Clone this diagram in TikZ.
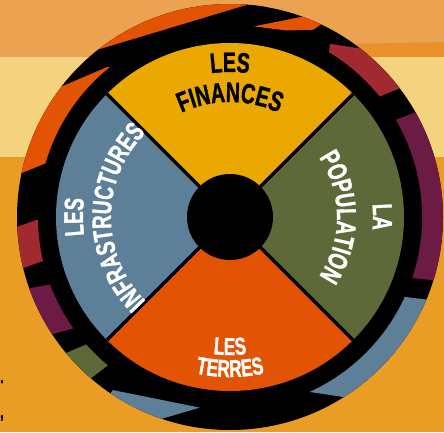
\documentclass[tikz,border=0pt]{standalone}
\usepackage{fontspec}
\newfontfamily\wheelfont{Liberation Sans}[UprightFont={* Bold}, FakeStretch=0.70, FakeBold=1.2]
\usetikzlibrary{decorations.text}
\definecolor{bgtop}{HTML}{EBA352}
\definecolor{bgpale}{HTML}{F3D37E}
\definecolor{bgorange}{HTML}{E99D25}
\definecolor{bgdark}{HTML}{E8912A}
\definecolor{finyellow}{HTML}{EAA800}
\definecolor{popgreen}{HTML}{5E693A}
\definecolor{terorange}{HTML}{E25303}
\definecolor{infblue}{HTML}{5D7F97}
\definecolor{ringred}{HTML}{A02A30}
\definecolor{ringpurple}{HTML}{6C1B45}
\tikzset{
    every node/.style={font=\wheelfont},
    sector line/.style={draw=black, line width=3.5pt},
    stray mark/.style={anchor=base west, inner sep=0pt,
        font=\wheelfont\fontsize{18}{18}\selectfont}
}
% one coloured piece of the outer band
\newcommand\bandpiece[5]{\fill[#1] (#2:218) arc[start angle=#2, end angle=#3, radius=218]
    -- (#5:185) arc[start angle=#5, end angle=#4, radius=185] -- cycle;}
% curved label
\newcommand\wheellabel[6]{\path[decorate, decoration={text along path, text align=center,
    text color=#1, text={|\wheelfont\fontsize{#2}{#2}\selectfont|#6}}]
    (#4:#3) arc[start angle=#4, end angle=#5, radius=#3];}

\begin{document}
\begin{tikzpicture}[x=1pt,y=1pt]
    \useasboundingbox (0,0) rectangle (444,432);
    % background stripes
    \fill[bgorange] (0,0) rectangle (444,275);
    \fill[bgpale] (0,275) rectangle (444,375);
    \fill[bgtop] (0,375) rectangle (444,432);
    \fill[bgdark] (300,375) -- (444,375) -- (444,390) -- (300,387) -- cycle;
    \node[stray mark] (dot) at (0,49) {.};
    \node[stray mark] (comma) at (0,14) {,};

    \begin{scope}[shift={(230,215)}]
        \fill[black] (0,0) circle (213);
        \begin{scope}
            \clip (0,0) circle (213);
            \bandpiece{ringpurple}{-17}{29.3}{-19}{30.7}
            \fill[ringred] (36.8:218) arc[start angle=36.8, end angle=50, radius=218]
                -- (60:200) -- (58:185) arc[start angle=58, end angle=39.5, radius=185] -- cycle;
            \bandpiece{terorange}{85}{169}{85}{162}
            \fill[black] (-170,130) -- (-123,150) -- (20,160) -- (40,219)
                -- (-133,167) -- (-190,160) -- cycle;
            \fill[terorange] (83:192) -- (68:218) -- (64:218) -- (66:205) -- (73:195) -- cycle;
            \bandpiece{ringred}{183}{194}{180}{193}
            \bandpiece{ringpurple}{199.3}{213}{201}{216.2}
            \bandpiece{popgreen}{219.3}{229}{222.3}{231}
            \fill[infblue] (235.9:218) arc[start angle=235.9, end angle=249.5, radius=218]
                -- (261:193) -- (235.9:209) -- cycle;
            \fill[infblue] (293.4:190) -- (303.8:218) arc[start angle=303.8, end angle=337.6, radius=218]
                -- (334.7:185) arc[start angle=334.7, end angle=296, radius=185] -- cycle;
        \end{scope}
        \fill[black] (0,0) circle (192);

        % the four quarters
        \fill[finyellow] (0,0) -- (45:174) arc[start angle=45, end angle=135, radius=174] -- cycle;
        \fill[infblue] (0,0) -- (135:174) arc[start angle=135, end angle=225, radius=174] -- cycle;
        \fill[terorange] (0,0) -- (225:174) arc[start angle=225, end angle=315, radius=174] -- cycle;
        \fill[popgreen] (0,0) -- (315:174) arc[start angle=315, end angle=405, radius=174] -- cycle;
        \foreach \a in {45,135,225,315}
            \draw[sector line] (0,0) -- (\a:174);
        \fill[black] (0,0) circle (43);

        \wheellabel{black}{28}{145}{160}{20}{LES}
        \wheellabel{black}{28}{115}{170}{10}{FINANCES}
        \wheellabel{white}{27.5}{143}{70}{-70}{LA}
        \wheellabel{white}{27.5}{107}{80}{-80}{POPULATION}
        \wheellabel{white}{24.5}{138}{200}{340}{LES}
        \wheellabel{white}{24.5}{160}{200}{340}{TERRES}
        \wheellabel{white}{27}{147}{250}{110}{LES}
        \wheellabel{white}{27}{119}{260}{100}{INFRASTRUCTURES}
    \end{scope}
\end{tikzpicture}
\end{document}
